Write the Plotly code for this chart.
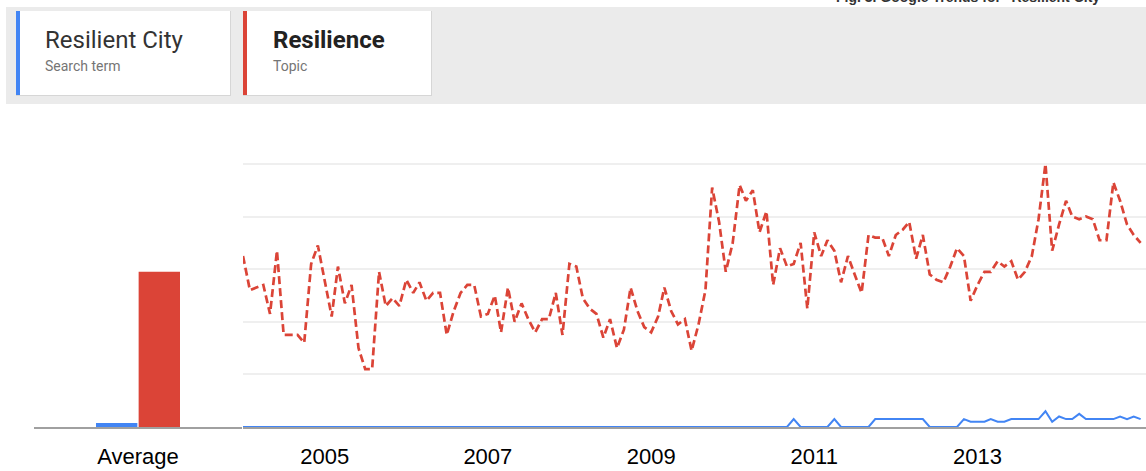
import pandas as pd
import plotly.graph_objects as go

W, H = 1146, 471

# ---- data (monthly, Jan 2004 - Jan 2015) ----
start_month = "2004-01-01"
resilience = [65, 52, 53, 54, 43, 67, 35, 35, 35, 32, 62, 69, 56, 42, 61, 47, 54, 30, 22, 22,
              59, 46, 49, 46, 56, 51, 55, 48, 51, 51, 35, 44, 51, 54, 54, 42, 43, 50, 36, 53,
              40, 47, 41, 36, 41, 41, 51, 35, 62, 61, 49, 45, 43, 34, 41, 30, 37, 53, 44, 38,
              36, 42, 53, 44, 39, 41, 29, 39, 52, 91, 78, 59, 70, 92, 86, 90, 74, 82, 54, 68,
              61, 62, 70, 45, 74, 65, 71, 67, 55, 65, 58, 51, 73, 72, 72, 65, 73, 75, 78, 64,
              73, 58, 56, 55, 61, 68, 65, 48, 54, 59, 59, 63, 61, 63, 56, 59, 65, 79, 100, 67,
              77, 86, 80, 79, 80, 79, 71, 71, 93, 86, 77, 73, 70]
resilient_city = ([0] * 81 + [3] + [0] * 5 + [3] + [0] * 5 + [3] * 8 + [0] * 5 +
                  [3, 2, 2, 2, 3, 2, 2, 3, 3, 3, 3, 3, 6, 2, 4, 3, 3, 5, 3, 3, 3, 3, 3, 4, 3, 4, 3])
avg_label = ["Average"]
avg_city = [1.5]
avg_resilience = [59]
year_ticks = ["2005-01-01", "2007-01-01", "2009-01-01", "2011-01-01", "2013-01-01"]
year_text = ["2005", "2007", "2009", "2011", "2013"]
grid_vals = [20, 40, 60, 80, 100]

dates = pd.date_range(start_month, periods=len(resilience), freq="MS")

BLUE = "#4285f4"
RED = "#db4437"


def fx(p):
    return p / W


def fy(p):
    return 1 - p / H


fig = go.Figure()

fig.add_trace(go.Bar(x=avg_label, y=avg_city, marker=dict(color=BLUE, line=dict(width=0)),
                     xaxis="x", yaxis="y", showlegend=False, hoverinfo="skip"))
fig.add_trace(go.Bar(x=avg_label, y=avg_resilience, marker=dict(color=RED, line=dict(width=0)),
                     xaxis="x", yaxis="y", showlegend=False, hoverinfo="skip"))

fig.add_trace(go.Scatter(x=dates, y=resilient_city, mode="lines",
                         line=dict(color=BLUE, width=2), xaxis="x2", yaxis="y2",
                         showlegend=False))
fig.add_trace(go.Scatter(x=dates, y=resilience, mode="lines",
                         line=dict(color=RED, width=2.7, dash="8px,4px"), xaxis="x2", yaxis="y2",
                         showlegend=False))

ydom = [fy(427), fy(158.7)]
axis_font = dict(family="Liberation Sans, Arial, sans-serif", size=22, color="#000000")

fig.update_layout(
    width=W, height=H,
    margin=dict(l=0, r=0, t=0, b=0),
    paper_bgcolor="white", plot_bgcolor="white",
    barmode="group", bargap=0.59, bargroupgap=0.03,
    xaxis=dict(domain=[fx(34), fx(242)], type="category", anchor="y",
               showline=True, linecolor="#a0a0a0", linewidth=1.5,
               ticks="outside", ticklen=9, tickcolor="rgba(0,0,0,0)",
               tickfont=axis_font, showgrid=False, zeroline=False, fixedrange=True),
    yaxis=dict(domain=ydom, range=[0, 102], anchor="x", visible=False, fixedrange=True),
    xaxis2=dict(domain=[fx(243), fx(1146)], type="date", anchor="y2",
                range=["2004-01-01", "2015-01-25"],
                tickvals=year_ticks, ticktext=year_text,
                showline=True, linecolor="#a0a0a0", linewidth=1.5,
                ticks="outside", ticklen=9, tickcolor="rgba(0,0,0,0)",
                tickfont=axis_font, showgrid=False, zeroline=False, fixedrange=True),
    yaxis2=dict(domain=ydom, range=[0, 102], anchor="x2", tickvals=grid_vals,
                showticklabels=False, showgrid=True, gridcolor="#efefef", gridwidth=1.5,
                zeroline=False, showline=False, fixedrange=True),
)

shapes = []
# gray header band
shapes.append(dict(type="rect", xref="paper", yref="paper", x0=fx(6), x1=1.0,
                   y0=fy(104), y1=fy(7), fillcolor="#ebebeb", line=dict(width=0), layer="below"))
# cards
for (l, r, col) in [(16, 230, BLUE), (243, 431, RED)]:
    shapes.append(dict(type="rect", xref="paper", yref="paper", x0=fx(l), x1=fx(r + 1),
                       y0=fy(96), y1=fy(11), fillcolor="#d6d6d6", line=dict(width=0), layer="below"))
    shapes.append(dict(type="rect", xref="paper", yref="paper", x0=fx(l), x1=fx(r),
                       y0=fy(95), y1=fy(11), fillcolor="#ffffff", line=dict(width=0), layer="below"))
    shapes.append(dict(type="rect", xref="paper", yref="paper", x0=fx(l), x1=fx(l + 4),
                       y0=fy(95), y1=fy(11), fillcolor=col, line=dict(width=0), layer="below"))
fig.update_layout(shapes=shapes)

ann = []
ann.append(dict(text="Resilient City", x=fx(43), y=fy(40), xref="paper", yref="paper",
                xanchor="left", yanchor="middle", showarrow=False,
                font=dict(family="Roboto, sans-serif", size=24, color="#333333")))
ann.append(dict(text="Search term", x=fx(43), y=fy(66), xref="paper", yref="paper",
                xanchor="left", yanchor="middle", showarrow=False,
                font=dict(family="Roboto, sans-serif", size=14, color="#757575")))
ann.append(dict(text="<b>Resilience</b>", x=fx(271), y=fy(40), xref="paper", yref="paper",
                xanchor="left", yanchor="middle", showarrow=False,
                font=dict(family="Roboto, sans-serif", size=24, color="#222222")))
ann.append(dict(text="Topic", x=fx(271), y=fy(66), xref="paper", yref="paper",
                xanchor="left", yanchor="middle", showarrow=False,
                font=dict(family="Roboto, sans-serif", size=14, color="#757575")))
ann.append(dict(text="<b>Fig. 3. Google Trends for \"Resilient City\"</b>", x=fx(834), y=fy(7),
                xref="paper", yref="paper", xanchor="left", yanchor="bottom", showarrow=False,
                font=dict(family="Liberation Sans, Arial, sans-serif", size=14, color="#333333")))
fig.update_layout(annotations=ann)

fig.write_html("out.html", config={"displayModeBar": False},
               post_script="document.body.style.margin='0';document.body.style.overflow='hidden';")
